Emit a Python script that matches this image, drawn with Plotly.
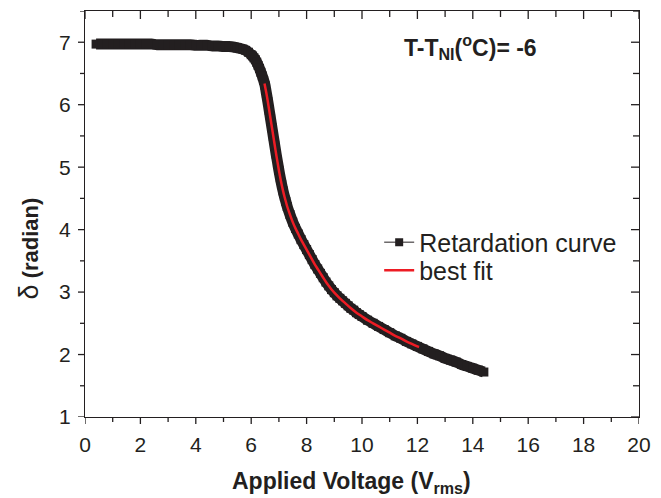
import plotly.graph_objects as go

# Retardation curve
volt = [0.4, 0.6, 0.8, 1.0, 1.2, 1.4, 1.6, 1.8, 2.0, 2.2, 2.4, 2.6, 2.8, 3.0, 3.2, 3.4, 3.6, 3.8,
        4.0, 4.2, 4.4, 4.6, 4.8, 5.0, 5.2, 5.4, 5.5, 5.6, 5.7, 5.8, 5.9, 6.0, 6.05, 6.1, 6.15,
        6.2, 6.25, 6.3, 6.35, 6.4, 6.45, 6.5, 6.55, 6.6, 6.65, 6.7, 6.75, 6.8, 6.85, 6.9, 6.95,
        7.0, 7.05, 7.1, 7.15, 7.2, 7.25, 7.3, 7.4, 7.5, 7.6, 7.7, 7.8, 7.9, 8.0, 8.1, 8.2, 8.3,
        8.4, 8.5, 8.6, 8.7, 8.8, 8.9, 9.0, 9.1, 9.2, 9.3, 9.4, 9.5, 9.6, 9.7, 9.8, 9.9, 10.0,
        10.2, 10.4, 10.6, 10.8, 11.0, 11.2, 11.4, 11.6, 11.8, 12.0, 12.2, 12.4, 12.6, 12.8,
        13.0, 13.2, 13.4, 13.6, 13.8, 14.0, 14.2, 14.4]
delta = [6.97, 6.97, 6.97, 6.97, 6.97, 6.97, 6.97, 6.97, 6.97, 6.97, 6.97, 6.96, 6.96, 6.96, 6.96,
         6.96, 6.96, 6.96, 6.95, 6.95, 6.95, 6.94, 6.94, 6.93, 6.93, 6.92, 6.91, 6.90, 6.89,
         6.87, 6.84, 6.80, 6.78, 6.75, 6.72, 6.68, 6.63, 6.58, 6.52, 6.46, 6.39, 6.31, 6.18,
         6.05, 5.91, 5.77, 5.63, 5.49, 5.35, 5.21, 5.08, 4.95, 4.83, 4.72, 4.62, 4.53, 4.45,
         4.37, 4.24, 4.12, 4.02, 3.93, 3.84, 3.76, 3.68, 3.60, 3.52, 3.44, 3.37, 3.30, 3.23,
         3.16, 3.10, 3.04, 2.99, 2.94, 2.90, 2.86, 2.82, 2.78, 2.74, 2.71, 2.67, 2.64, 2.61,
         2.55, 2.50, 2.45, 2.40, 2.35, 2.30, 2.26, 2.21, 2.17, 2.13, 2.09, 2.05, 2.01, 1.98,
         1.94, 1.91, 1.88, 1.84, 1.81, 1.78, 1.75, 1.72]

# Best fit segment
fit_volt = [6.48, 6.55, 6.6, 6.65, 6.7, 6.75, 6.8, 6.85, 6.9, 6.95, 7.0, 7.05, 7.1, 7.15, 7.2,
            7.25, 7.3, 7.4, 7.5, 7.6, 7.7, 7.8, 7.9, 8.0, 8.1, 8.2, 8.3, 8.4, 8.5, 8.6, 8.7,
            8.8, 8.9, 9.0, 9.2, 9.4, 9.6, 9.8, 10.0, 10.2, 10.4, 10.6, 10.8, 11.0, 11.2, 11.4,
            11.6, 11.8, 12.0, 12.06]
fit_delta = [6.34, 6.18, 6.05, 5.91, 5.77, 5.63, 5.49, 5.35, 5.21, 5.08, 4.95, 4.83, 4.72, 4.62,
             4.53, 4.45, 4.37, 4.24, 4.12, 4.02, 3.93, 3.84, 3.76, 3.68, 3.60, 3.52, 3.44, 3.37,
             3.30, 3.23, 3.16, 3.10, 3.04, 2.99, 2.90, 2.82, 2.74, 2.67, 2.61, 2.55, 2.50, 2.45,
             2.40, 2.35, 2.30, 2.26, 2.21, 2.17, 2.13, 2.12]

x_ticks = [0, 2, 4, 6, 8, 10, 12, 14, 16, 18, 20]
y_ticks = [1, 2, 3, 4, 5, 6, 7]
Y_MAX = 7.5

INK = "#231f20"
FONT = "Liberation Sans, Arial, sans-serif"

x_minor = [(a + b) / 2 for a, b in zip(x_ticks[:-1], x_ticks[1:])]
y_minor = [(a + b) / 2 for a, b in zip(y_ticks[:-1], y_ticks[1:])] + [Y_MAX]

fig = go.Figure()
fig.add_trace(go.Scatter(x=volt, y=delta, mode="lines+markers",
                         line=dict(color=INK, width=11, shape="spline", smoothing=0.6),
                         marker=dict(symbol="square", size=9, color=INK),
                         showlegend=False))
fig.add_trace(go.Scatter(x=fit_volt, y=fit_delta, mode="lines",
                         line=dict(color="#ed1c24", width=2.5, shape="spline", smoothing=0.6),
                         showlegend=False))
# legend entries
fig.add_trace(go.Scatter(x=[None], y=[None], mode="lines+markers", name="Retardation curve",
                         line=dict(color=INK, width=1),
                         marker=dict(symbol="square", size=8, color=INK), legend="legend"))
fig.add_trace(go.Scatter(x=[None], y=[None], mode="lines", name="best fit",
                         line=dict(color="#ed1c24", width=2.5), legend="legend2"))

# ticks: bottom/left outward (major+minor), top/right inward (major+minor)
shapes = []
tick_line = dict(color=INK, width=1.3)
for v, ln in [(t, 7) for t in x_ticks] + [(t, 5) for t in x_minor]:
    shapes.append(dict(type="line", xref="x", yref="paper", ysizemode="pixel", yanchor=0,
                       x0=v, x1=v, y0=0, y1=-ln, line=tick_line))
    shapes.append(dict(type="line", xref="x", yref="paper", ysizemode="pixel", yanchor=1,
                       x0=v, x1=v, y0=0, y1=-(ln + 1), line=tick_line))
for v, ln in [(t, 7) for t in y_ticks] + [(t, 5) for t in y_minor]:
    shapes.append(dict(type="line", yref="y", xref="paper", xsizemode="pixel", xanchor=0,
                       y0=v, y1=v, x0=0, x1=-ln, line=tick_line))
    shapes.append(dict(type="line", yref="y", xref="paper", xsizemode="pixel", xanchor=1,
                       y0=v, y1=v, x0=0, x1=-(ln + 1), line=tick_line))

axis_common = dict(showline=True, mirror=True, linecolor=INK, linewidth=1.3, showgrid=False,
                   zeroline=False, ticks="", tickfont=dict(family=FONT, size=21, color=INK))

fig.update_layout(
    width=661, height=498,
    margin=dict(l=85, r=15, t=10, b=81),
    paper_bgcolor="white", plot_bgcolor="white",
    font=dict(family=FONT, color=INK),
    xaxis=dict(range=[x_ticks[0], x_ticks[-1]], tickmode="array", tickvals=x_ticks,
               ticklabelstandoff=9, **axis_common),
    yaxis=dict(range=[y_ticks[0], Y_MAX], tickmode="array", tickvals=y_ticks,
               ticklabelstandoff=9, **axis_common),
    shapes=shapes,
    legend=dict(x=0.531, y=0.430, xanchor="left", yanchor="middle", bgcolor="rgba(0,0,0,0)",
                font=dict(family=FONT, size=25, color=INK)),
    legend2=dict(x=0.531, y=0.361, xanchor="left", yanchor="middle", bgcolor="rgba(0,0,0,0)",
                 font=dict(family=FONT, size=25, color=INK)),
    annotations=[
        dict(text="<b>T-T<sub>NI</sub>(<sup>o</sup>C)= -6</b>", x=0.695, y=0.912,
             xanchor="center", yanchor="middle",
             xref="paper", yref="paper", showarrow=False,
             font=dict(family=FONT, size=23, color=INK)),
        dict(text="<b>Applied Voltage (V<sub>rms</sub>)</b>", x=0.481, y=0,
             xanchor="center", yanchor="middle",
             yshift=-65, xref="paper", yref="paper", showarrow=False,
             font=dict(family=FONT, size=23, color=INK)),
        dict(text="<span style='font-size:27px'>δ</span><b> (radian)</b>", x=0, xshift=-56,
             y=0.415, xanchor="center", yanchor="middle", textangle=-90,
             xref="paper", yref="paper", showarrow=False,
             font=dict(family=FONT, size=22, color=INK)),
    ],
)

fig.write_html("out.html")
